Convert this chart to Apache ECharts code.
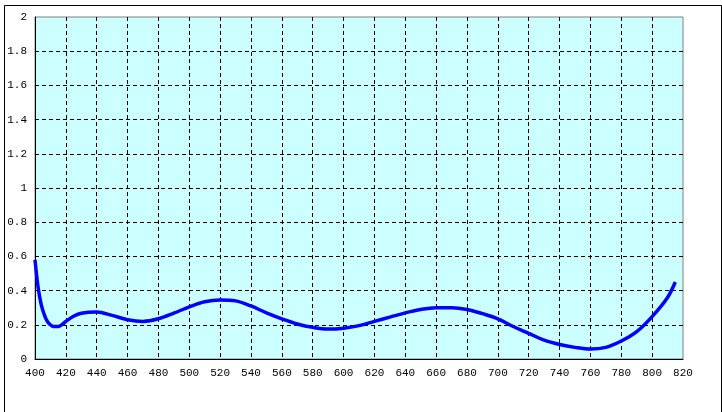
<!DOCTYPE html>
<html>
<head>
<meta charset="utf-8">
<script src="https://cdn.jsdelivr.net/npm/echarts@6/dist/echarts.min.js"></script>
<style>html,body{margin:0;padding:0;background:#fff;}#c{width:722px;height:412px;}</style>
</head>
<body>
<div id="c"></div>
<script>
const wavelengths = [400, 402, 404, 406, 408, 410, 412, 415, 418, 420, 425, 430, 440, 450, 460, 470, 480, 490, 500, 510, 520, 530, 540, 550, 560, 570, 580, 590, 600, 610, 620, 630, 640, 650, 660, 670, 680, 690, 700, 710, 720, 730, 740, 750, 760, 770, 780, 790, 800, 810, 815];
const values = [0.58, 0.42, 0.32, 0.26, 0.22, 0.20, 0.19, 0.19, 0.205, 0.22, 0.25, 0.268, 0.275, 0.255, 0.23, 0.22, 0.235, 0.268, 0.305, 0.335, 0.345, 0.34, 0.31, 0.27, 0.235, 0.205, 0.185, 0.175, 0.18, 0.195, 0.22, 0.245, 0.27, 0.29, 0.30, 0.30, 0.29, 0.265, 0.235, 0.19, 0.15, 0.11, 0.085, 0.068, 0.058, 0.068, 0.105, 0.16, 0.248, 0.36, 0.45];
const xTicks = {min: 400, max: 820, step: 20};
const yTicks = {min: 0, max: 2, step: 0.2};

const chart = echarts.init(document.getElementById('c'), null, {renderer: 'canvas'});
const labelFont = {fontFamily: 'Liberation Mono, DejaVu Sans Mono, monospace', fontSize: 11, color: '#000'};
const dash = {color: '#000', width: 1, type: [4, 3]};
chart.setOption({
  backgroundColor: '#fff',
  animation: false,
  graphic: [{
    type: 'rect', left: 2, top: 3, shape: {width: 717, height: 407},
    style: {fill: 'none', stroke: '#000', lineWidth: 1}, silent: true
  }],
  grid: {left: 35, right: 39, top: 17, bottom: 53, show: true, backgroundColor: '#CCFFFF', borderColor: '#808080', borderWidth: 1},
  xAxis: [{
    type: 'value', min: xTicks.min, max: xTicks.max, interval: xTicks.step,
    axisLine: {show: true, lineStyle: {color: '#000', width: 1}},
    axisTick: {show: false},
    axisLabel: Object.assign({margin: 9}, labelFont),
    splitLine: {show: true, showMinLine: false, showMaxLine: false, lineStyle: dash}
  }],
  yAxis: [{
    type: 'value', min: yTicks.min, max: yTicks.max, interval: yTicks.step,
    axisLine: {show: true, lineStyle: {color: '#000', width: 1}},
    axisTick: {show: false},
    axisLabel: Object.assign({margin: 8}, labelFont),
    splitLine: {show: true, showMinLine: false, showMaxLine: false, lineStyle: dash}
  }],
  series: [{
    type: 'line',
    data: wavelengths.map((w, i) => [w, values[i]]),
    smooth: 0.35,
    showSymbol: false,
    lineStyle: {color: '#0000FF', width: 3.5}
  }]
});
</script>
</body>
</html>
